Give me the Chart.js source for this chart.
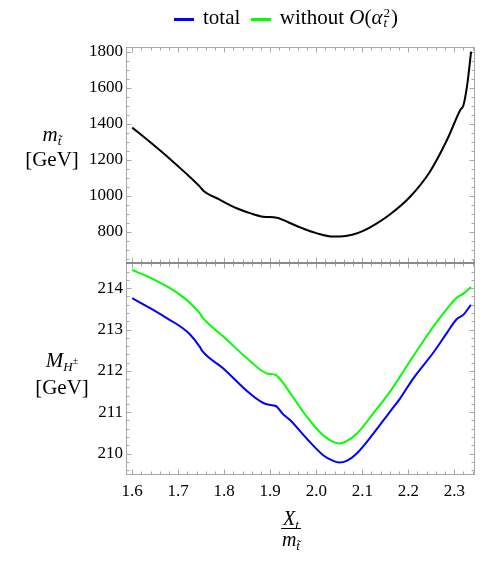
<!DOCTYPE html>
<html>
<head>
<meta charset="utf-8">
<script src="https://cdn.jsdelivr.net/npm/chart.js@4.4.1/dist/chart.umd.min.js"></script>
<style>
  html, body { margin: 0; padding: 0; background: #fff; }
  #wrap { position: relative; width: 498px; height: 561px; font-family: "Liberation Serif", "DejaVu Serif", serif; color: #000; }
  #plot { position: absolute; left: 0; top: 0; }
  .lbl { position: absolute; white-space: nowrap; font-size: 21px; }
  .swatch { display: inline-block; width: 20px; height: 3px; vertical-align: middle; margin: 0 9px 0 0; }
  .ss { display: inline-flex; flex-direction: column; font-size: 13px; line-height: 10px; vertical-align: 7px; margin: 0 1px; }
  .frac { display: inline-flex; flex-direction: column; align-items: center; }
  .frac .num { border-bottom: 1px solid #000; padding: 0 2px 1px; line-height: 18px; }
  .frac .den { line-height: 20px; }
  sub { font-size: 13px; vertical-align: -4px; line-height: 0; }
</style>
</head>
<body>
<div id="wrap">
  <canvas id="plot" width="498" height="561"></canvas>
  <div id="legend" class="lbl" style="left:174px; top:3px; line-height:28px;"></div>
  <div class="lbl" style="left:19px; top:122px; width:66px; text-align:center; line-height:25px;">
    <i>m</i><sub><i>t&#771;</i></sub><br>[GeV]
  </div>
  <div class="lbl" style="left:29px; top:347px; width:66px; text-align:center; line-height:27px;">
    <i>M</i><sub><i>H</i><span style="font-size:10px; vertical-align:7px;">&plusmn;</span></sub><br>[GeV]
  </div>
  <div class="lbl" style="left:281px; top:507px; font-size:20px;">
    <span class="frac"><span class="num"><i>X</i><sub><i>t</i></sub></span><span class="den"><i>m</i><sub><i>t&#771;</i></sub></span></span>
  </div>
</div>
<script>
// x values (X_t / m_stop) and the stop mass in the upper panel
const xStop = [1.600, 1.640, 1.682, 1.715, 1.747, 1.7546, 1.790, 1.827, 1.856, 1.885, 1.914, 1.940, 1.965, 2.000, 2.037, 2.052, 2.080, 2.102, 2.130, 2.160, 2.204, 2.247, 2.284, 2.313, 2.320, 2.3285, 2.3365];
const mStop = [1378, 1295, 1204, 1128, 1050, 1028, 978, 930, 903, 883, 878, 851, 824, 792, 773, 773, 784, 804, 843, 895, 994, 1133, 1309, 1476, 1504, 1624, 1800];

// charged Higgs mass in the lower panel
const xHiggs = [1.600, 1.640, 1.682, 1.710, 1.7257, 1.747, 1.753, 1.798, 1.856, 1.892, 1.912, 1.927, 1.943, 1.980, 2.015, 2.037, 2.050, 2.066, 2.088, 2.124, 2.160, 2.182, 2.211, 2.255, 2.284, 2.305, 2.320, 2.336];
const mhTotal = [213.76, 213.51, 213.23, 213.03, 212.88, 212.58, 212.47, 212.06, 211.45, 211.19, 211.15, 210.96, 210.81, 210.35, 209.96, 209.82, 209.78, 209.82, 210.00, 210.48, 211.01, 211.33, 211.82, 212.45, 212.92, 213.25, 213.36, 213.60];
const mhNoAt2 = [214.44, 214.25, 214.00, 213.79, 213.64, 213.39, 213.29, 212.83, 212.24, 211.94, 211.90, 211.72, 211.47, 210.88, 210.44, 210.28, 210.24, 210.30, 210.48, 210.97, 211.49, 211.86, 212.36, 213.08, 213.50, 213.77, 213.87, 214.03];

// tick labels
const xTicks = [1.6, 1.7, 1.8, 1.9, 2.0, 2.1, 2.2, 2.3];
const stopTicks = [800, 1000, 1200, 1400, 1600, 1800];
const higgsTicks = [210, 211, 212, 213, 214];

const legendItems = [
    { html: 'total', color: '#0000ff' },
    { html: 'without <i>O</i>(<i>&alpha;</i><span class="ss"><span>2</span><span><i>t</i></span></span>)', color: '#00ff00' }
];

document.getElementById('legend').innerHTML = legendItems
    .map(it => `<span class="swatch" style="background:${it.color}"></span>${it.html}`)
    .join('&nbsp;&nbsp;');

const pts = (xs, ys) => xs.map((x, i) => ({ x: x, y: ys[i] }));

// Mathematica-style frame: grey box with inward major/minor ticks on every side
const framePlugin = {
    id: 'frame',
    beforeDatasetsDraw(chart) {
        const ctx = chart.ctx;
        const sx = chart.scales.x;
        const panels = [
            { s: chart.scales.yTop, minor: 50, every: 4 },
            { s: chart.scales.yBot, minor: 0.2, every: 5 }
        ];
        ctx.save();
        ctx.strokeStyle = '#a8a8a8';
        ctx.lineWidth = 1;
        for (const p of panels) {
            const sy = p.s;
            const l = Math.round(sx.left) + 0.5, r = Math.round(sx.right) - 0.5;
            const t = Math.round(sy.top) + 0.5, b = Math.round(sy.bottom) - 0.5;
            ctx.strokeRect(l, t, r - l, b - t);
            ctx.beginPath();
            for (let k = Math.ceil(sx.min / 0.02 - 1e-6); k * 0.02 <= sx.max + 1e-9; k++) {
                const px = Math.round(sx.getPixelForValue(k * 0.02)) + 0.5;
                const len = k % 5 === 0 ? 5 : 3;
                ctx.moveTo(px, b); ctx.lineTo(px, b - len);
                ctx.moveTo(px, t); ctx.lineTo(px, t + len);
            }
            for (let k = Math.ceil(sy.min / p.minor - 1e-6); k * p.minor <= sy.max + 1e-9; k++) {
                const py = Math.round(sy.getPixelForValue(k * p.minor)) + 0.5;
                const len = k % p.every === 0 ? 5 : 3;
                ctx.moveTo(l, py); ctx.lineTo(l + len, py);
                ctx.moveTo(r, py); ctx.lineTo(r - len, py);
            }
            ctx.stroke();
        }
        // darker seam between the two panels
        const seam = Math.round(chart.scales.yBot.top);
        ctx.strokeStyle = '#8a8a8a';
        ctx.lineWidth = 2;
        ctx.beginPath();
        ctx.moveTo(sx.left, seam); ctx.lineTo(sx.right, seam);
        ctx.stroke();
        ctx.restore();
    }
};

const tickFont = { family: '"Liberation Serif", serif', size: 17 };

new Chart(document.getElementById('plot'), {
    type: 'line',
    data: {
        datasets: [
            { label: 'stop', data: pts(xStop, mStop), yAxisID: 'yTop', borderColor: '#000', borderWidth: 2, pointRadius: 0, cubicInterpolationMode: 'monotone', fill: false },
            { label: 'total', data: pts(xHiggs, mhTotal), yAxisID: 'yBot', borderColor: legendItems[0].color, borderWidth: 2, pointRadius: 0, cubicInterpolationMode: 'monotone', fill: false },
            { label: 'without', data: pts(xHiggs, mhNoAt2), yAxisID: 'yBot', borderColor: legendItems[1].color, borderWidth: 2, pointRadius: 0, cubicInterpolationMode: 'monotone', fill: false }
        ]
    },
    options: {
        responsive: false,
        animation: false,
        devicePixelRatio: 1,
        layout: { padding: { top: 47, right: 23, left: 0, bottom: 0 } },
        plugins: { legend: { display: false }, tooltip: { enabled: false } },
        scales: {
            x: {
                type: 'linear', min: 1.5865, max: 2.345,
                grid: { display: false, drawTicks: false },
                border: { display: false },
                afterBuildTicks: s => { s.ticks = xTicks.map(v => ({ value: v })); },
                afterFit: s => { s.height = 86; },
                ticks: { font: tickFont, color: '#000', padding: 6, maxRotation: 0, callback: v => v.toFixed(1) }
            },
            yBot: {
                type: 'linear', position: 'left', stack: 'panels', stackWeight: 212,
                min: 209.48, max: 214.61,
                grid: { display: false, drawTicks: false },
                border: { display: false },
                afterBuildTicks: s => { s.ticks = higgsTicks.map(v => ({ value: v })); },
                afterFit: s => { s.width = 126; },
                ticks: { font: tickFont, color: '#000', padding: 3, callback: v => String(v) }
            },
            yTop: {
                type: 'linear', position: 'left', stack: 'panels', stackWeight: 216,
                min: 626, max: 1826,
                grid: { display: false, drawTicks: false },
                border: { display: false },
                afterBuildTicks: s => { s.ticks = stopTicks.map(v => ({ value: v })); },
                afterFit: s => { s.width = 126; },
                ticks: { font: tickFont, color: '#000', padding: 3, callback: v => String(v) }
            }
        }
    },
    plugins: [framePlugin]
});
</script>
</body>
</html>
